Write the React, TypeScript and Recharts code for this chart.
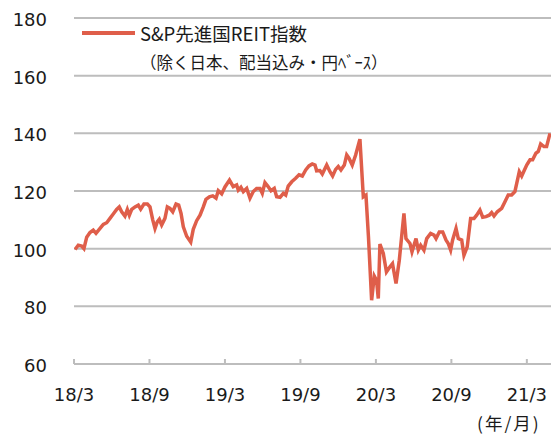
import React from 'react';
import { LineChart, Line, XAxis, YAxis, CartesianGrid, Legend, Label } from 'recharts';

// months elapsed since 2018/3
const tMonths = [
  0.08, 0.34, 0.61, 0.79, 1.01, 1.27, 1.53, 1.75, 2.07, 2.33, 2.6, 2.86, 3.12, 3.39, 3.6, 3.79,
  4.05, 4.24, 4.4, 4.59, 4.85, 5.11, 5.3, 5.56, 5.83, 6.04, 6.26, 6.44, 6.62, 6.78, 6.97, 7.23,
  7.42, 7.63, 7.85, 8.11, 8.32, 8.51, 8.69, 8.96, 9.28, 9.48, 9.75, 10.02, 10.28, 10.49, 10.76,
  11.03, 11.29, 11.47, 11.74, 12.0, 12.36, 12.66, 12.93, 13.06, 13.27, 13.46, 13.73, 13.99, 14.25,
  14.52, 14.79, 14.97, 15.18, 15.4, 15.66, 15.92, 16.11, 16.38, 16.64, 16.83, 17.03, 17.31, 17.62,
  17.89, 18.15, 18.42, 18.68, 18.94, 19.16, 19.29, 19.55, 19.74, 20.09, 20.35, 20.56, 20.8, 21.01,
  21.22, 21.49, 21.68, 21.86, 22.12, 22.39, 22.73, 23.0, 23.21, 23.41, 23.66, 23.87, 24.05, 24.19,
  24.32, 24.59, 24.84, 25.12, 25.32, 25.6, 25.86, 26.23, 26.39, 26.71, 26.87, 27.19, 27.37, 27.56,
  27.82, 28.04, 28.35, 28.62, 28.78, 29.04, 29.31, 29.57, 29.75, 29.94, 30.1, 30.37, 30.55, 30.82,
  31.0, 31.26, 31.53, 31.8, 32.01, 32.27, 32.49, 32.75, 33.01, 33.2, 33.39, 33.65, 34.0, 34.26,
  34.52, 34.79, 35.05, 35.4, 35.59, 35.99, 36.25, 36.46, 36.72, 36.91, 37.1, 37.36, 37.57, 37.84,
];

const reitIndex = [
  99.7, 101.2, 100.9, 100, 104, 105.6, 106.4, 105.3, 107, 108.4, 109, 110.5, 112, 113.6, 114.5, 112.8,
  111.3, 113.6, 111.6, 113.6, 114.5, 115.1, 113.7, 115.5, 115.5, 114.5, 110, 107, 109.3, 110.2, 108.2, 110.5,
  114.5, 114, 112.8, 115.5, 115.1, 112.2, 107.6, 104.3, 102.3, 106.7, 109.7, 111.6, 114.5, 117.1, 118,
  118.3, 117.5, 120.1, 119, 121.4, 123.8, 121.5, 122.1, 120.3, 121.3, 119.8, 120.9, 117.5, 119.8,
  120.9, 120.9, 119.2, 122.9, 121.7, 120.1, 120.9, 118, 117.8, 119.2, 118.6, 121.7, 123.2, 124.4,
  125.6, 125.2, 127.3, 128.7, 129.4, 129, 127, 127.1, 125.9, 129, 126.7, 125.2, 127.5, 128.5,
  127.3, 129, 132.5, 131.4, 129, 132.5, 138, 118, 118.6, 104, 82.1, 90.5, 89, 82.7,
  101.6, 98.3, 91.9, 93.7, 94.8, 87.9, 96, 112.2, 103.5, 101.8, 98.9, 103.5, 99.5, 101.2,
  99.5, 103.5, 105.3, 104.7, 103.5, 105.8, 105.8, 103, 101.8, 99.5, 103, 107, 103.5, 103,
  97.7, 100.6, 110.5, 110.5, 111.6, 113.4, 110.9, 111.1, 111.6, 112.5, 111.3, 112.8, 114, 116.3,
  118.6, 118.6, 119.8, 126.7, 125.2, 129, 130.8, 130.8, 133.1, 133.7, 136.3, 135.4, 135.4, 140,
];

const xTicks = [0, 6, 12, 18, 24, 30, 36];
const xTickLabels = ['18/3', '18/9', '19/3', '19/9', '20/3', '20/9', '21/3'];
const yTicks = [60, 80, 100, 120, 140, 160, 180];
const seriesName = 'S&P先進国REIT指数';
const seriesNote = '（除く日本、配当込み・円ﾍﾞｰｽ）';
const unitLabel = '(年/月)';

const data = tMonths.map((t, i) => ({ t, v: reitIndex[i] }));

const LINE_COLOR = '#DF5E4A';
const GRID_COLOR = '#BDBDBD';
const NUM_FONT = '"DejaVu Sans", sans-serif';
const JP_FONT = '"Noto Sans CJK JP", sans-serif';

const XTick = (props: any) => {
  const { x, y, payload } = props;
  const idx = xTicks.indexOf(payload.value);
  return (
    <g>
      <line x1={x} x2={x} y1={y} y2={y - 5} stroke={GRID_COLOR} strokeWidth={2} />
      <text x={x} y={y + 37} textAnchor="middle" fontSize={18} fontFamily={NUM_FONT} fill="#1a1a1a">
        {idx >= 0 ? xTickLabels[idx] : ''}
      </text>
    </g>
  );
};

const YTick = (props: any) => {
  const { y, payload } = props;
  return (
    <text x={47} y={y + 8} textAnchor="end" fontSize={18} fontFamily={NUM_FONT} fill="#1a1a1a">
      {payload.value}
    </text>
  );
};

const renderLegend = () => (
  <div style={{ position: 'relative', width: 0, height: 0, overflow: 'visible' }}>
    <svg width={60} height={10} style={{ position: 'absolute', left: 82, top: 28 }}>
      <line x1={0} x2={53} y1={5} y2={5} stroke={LINE_COLOR} strokeWidth={4} />
    </svg>
    <div
      style={{
        position: 'absolute', left: 140, top: 19, fontFamily: JP_FONT, fontSize: 18.5,
        lineHeight: '28px', color: '#1a1a1a', whiteSpace: 'nowrap',
      }}
    >
      {seriesName}
    </div>
    <div
      style={{
        position: 'absolute', left: 140, top: 49, fontFamily: JP_FONT, fontSize: 16.5,
        lineHeight: '26px', color: '#1a1a1a', whiteSpace: 'nowrap',
      }}
    >
      {seriesNote}
    </div>
  </div>
);

export default function App() {
  return (
    <div style={{ position: 'absolute', left: 0, top: 0, width: 551, height: 437, background: '#fff' }}>
      <LineChart width={551} height={437} data={data} margin={{ top: 18, right: 0, bottom: 0, left: 0 }}>
        <CartesianGrid vertical={false} stroke={GRID_COLOR} strokeWidth={2} />
        <XAxis
          type="number"
          dataKey="t"
          domain={[0, 37.92]}
          ticks={xTicks}
          allowDataOverflow
          height={73}
          axisLine={{ stroke: GRID_COLOR, strokeWidth: 2 }}
          tickLine={false}
          tickSize={0}
          tickMargin={0}
          tick={<XTick />}
          interval={0}
        >
          <Label
            content={(p: any) => {
              const vb = p.viewBox || { x: 74, y: 364, width: 477 };
              return (
                <text
                  x={477}
                  y={vb.y + 66}
                  fontSize={17.5}
                  letterSpacing={2}
                  fontFamily={JP_FONT}
                  fill="#1a1a1a"
                >
                  {unitLabel}
                </text>
              );
            }}
          />
        </XAxis>
        <YAxis
          type="number"
          domain={[60, 180]}
          ticks={yTicks}
          width={74}
          axisLine={false}
          tickLine={false}
          tickSize={0}
          tickMargin={0}
          tick={<YTick />}
          interval={0}
        />
        <Legend
          content={renderLegend}
          wrapperStyle={{ position: 'absolute', left: 0, top: 0, width: 0, height: 0, overflow: 'visible' }}
        />
        <Line
          type="linear"
          dataKey="v"
          name={seriesName}
          stroke={LINE_COLOR}
          strokeWidth={3.5}
          dot={false}
          isAnimationActive={false}
        />
      </LineChart>
    </div>
  );
}
